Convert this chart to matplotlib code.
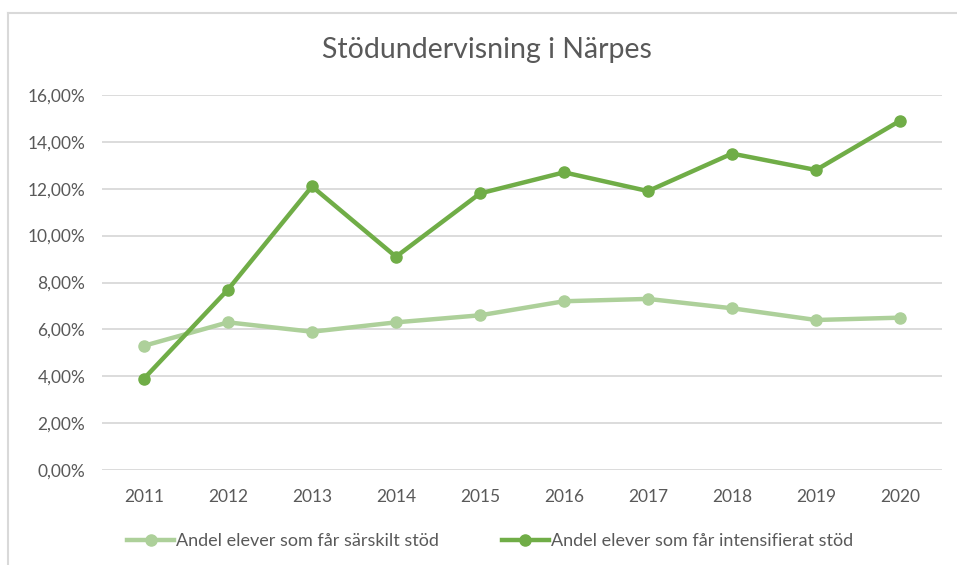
import matplotlib
matplotlib.use("Agg")
import matplotlib.pyplot as plt
from matplotlib.lines import Line2D
from matplotlib.ticker import FuncFormatter

plt.rcParams['font.family'] = ['Lato', 'DejaVu Sans']

# --- data ---
years = [2011, 2012, 2013, 2014, 2015, 2016, 2017, 2018, 2019, 2020]
sarskilt = [5.3, 6.3, 5.9, 6.3, 6.6, 7.2, 7.3, 6.9, 6.4, 6.5]
intensifierat = [3.9, 7.7, 12.1, 9.1, 11.8, 12.7, 11.9, 13.5, 12.8, 14.9]
labels = ["Andel elever som får särskilt stöd",
          "Andel elever som får intensifierat stöd"]
title = "Stödundervisning i Närpes"

TEXT = '#595959'
GRID = '#d9d9d9'

fig = plt.figure(figsize=(9.57, 5.65), dpi=100)
ax = fig.add_axes([102 / 957, 95 / 565, 840 / 957, 375 / 565])

ax.plot(years, sarskilt, color='#add09a', lw=3.2, marker='o', ms=8,
        label=labels[0], zorder=3)
ax.plot(years, intensifierat, color='#70ad47', lw=3.2, marker='o', ms=8,
        label=labels[1], zorder=4)

ax.set_xlim(years[0] - 0.5, years[-1] + 0.5)
ax.set_ylim(0, 16)
ax.set_yticks(range(0, 17, 2))
ax.yaxis.set_major_formatter(FuncFormatter(lambda v, p: f"{v:.2f}%".replace('.', ',')))
ax.set_xticks(years)
ax.grid(axis='y', color=GRID, lw=1.3)
ax.set_axisbelow(True)
for s in ax.spines.values():
    s.set_visible(False)
ax.tick_params(length=0, labelsize=12.5, labelcolor=TEXT, pad=12)
ax.tick_params(axis='x', pad=14)

fig.text(487 / 957, 1 - 50 / 565, title, ha='center', va='center',
         fontsize=20.5, color=TEXT)

fig.legend(loc='center', bbox_to_anchor=(490 / 957, 1 - 541 / 565), ncol=2,
           frameon=False, fontsize=13, labelcolor=TEXT, handlelength=2.6,
           handletextpad=0.1, columnspacing=3.5)

# chart-area border (left and top edges visible in crop)
fig.add_artist(Line2D([8 / 957, 8 / 957], [0, 1 - 13 / 565], color=GRID, lw=1.5))
fig.add_artist(Line2D([8 / 957, 1], [1 - 13 / 565, 1 - 13 / 565], color=GRID, lw=1.5))

fig.savefig("out.png", dpi=100, facecolor='white')
